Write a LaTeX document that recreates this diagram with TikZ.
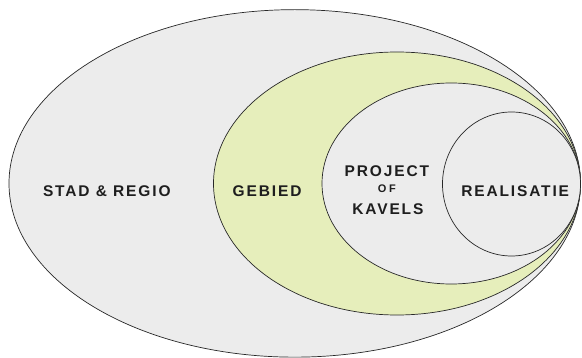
\documentclass[tikz,border=0pt]{standalone}
\usepackage{fontspec}
\setmainfont{Liberation Sans}
\newfontfamily\lab[LetterSpace=12]{Liberation Sans}
\newfontfamily\labsmall[LetterSpace=25]{Liberation Sans}
\usetikzlibrary{shapes.geometric}
\definecolor{bggray}{RGB}{236,236,236}
\definecolor{areagreen}{RGB}{230,238,187}
\definecolor{edge}{RGB}{40,40,40}
\definecolor{txt}{RGB}{30,30,30}
\tikzset{
  zone/.style={ellipse, draw=edge, line width=0.7pt, inner sep=0pt, fill=bggray},
  zonelabel/.style={anchor=base, inner sep=0pt, text=txt, font=\lab\bfseries\fontsize{15.5}{17}\selectfont},
  smalllabel/.style={anchor=base, inner sep=0pt, text=txt, font=\labsmall\bfseries\fontsize{11}{12}\selectfont}
}
\begin{document}
\begin{tikzpicture}[x=1pt,y=-1pt]
\useasboundingbox[fill=white] (0,0) rectangle (582,358);
\node[zone, minimum width=571.5pt, minimum height=347.5pt] (stad) at (294.75,183.4) {};
\node[zone, fill=areagreen, minimum width=367pt, minimum height=263pt] (gebied) at (397,183.5) {};
\node[zone, minimum width=258.5pt, minimum height=201pt] (project) at (451.25,183.5) {};
\node[zone, minimum width=138pt, minimum height=144pt] (real) at (511.5,184) {};
\node[zonelabel] (tstad) at (106.8,196.3) {STAD \& REGIO};
\node[zonelabel] (tgebied) at (267.1,196.3) {GEBIED};
\node[zonelabel] (tproject) at (386.9,177) {PROJECT};
\node[smalllabel] (tof) at (386.9,193) {OF};
\node[zonelabel] (tkavels) at (387.9,214.6) {KAVELS};
\node[zonelabel] (treal) at (515.2,196.3) {REALISATIE};
\end{tikzpicture}
\end{document}
